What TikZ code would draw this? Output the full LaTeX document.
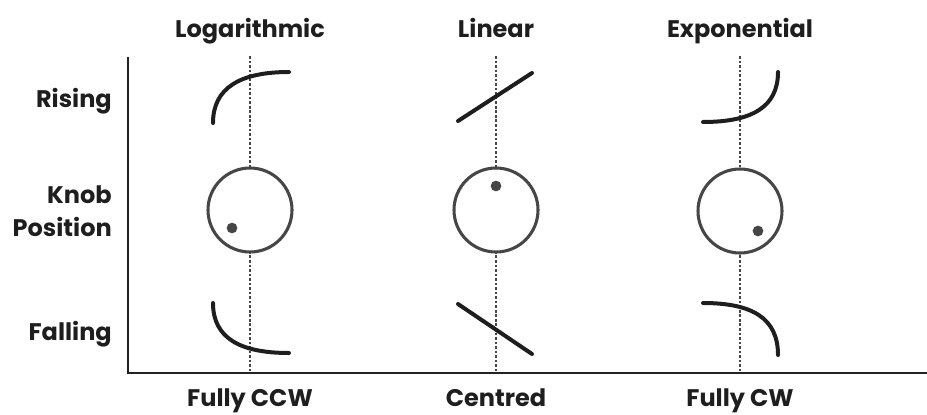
\documentclass[tikz,border=0pt]{standalone}
\usepackage{fontspec}
\setmainfont{Poppins}
\usetikzlibrary{positioning, calc}
\definecolor{curvecolor}{RGB}{30, 30, 30}
\definecolor{knobcolor}{RGB}{70, 70, 70}
\definecolor{axiscolor}{RGB}{35, 35, 35}
\definecolor{textcolor}{RGB}{30, 30, 30}

\begin{document}
\begin{tikzpicture}[
    x=0.75pt, y=-0.75pt,
    curve/.style={line width=3pt, curvecolor, line cap=round},
    knob/.style={circle, draw=knobcolor, line width=2.3pt, fill=white, minimum size=63pt, inner sep=0pt},
    pointer/.style={circle, fill=knobcolor, minimum size=8pt, inner sep=0pt},
    guide/.style={line width=1pt, knobcolor, dash pattern=on 2pt off 1.4pt},
    axis/.style={line width=2.2pt, axiscolor},
    label/.style={font=\fontsize{18}{25}\selectfont\bfseries, text=textcolor, align=right, inner sep=0pt}
]
\useasboundingbox (0,0) rectangle (927,414);

% Column titles
\node[label, anchor=base] (hdLog) at (250, 37) {Logarithmic};
\node[label, anchor=base] (hdLin) at (496, 37) {Linear};
\node[label, anchor=base] (hdExp) at (740, 37) {Exponential};

% Row titles
\node[label, anchor=base east] (lbRise) at (112, 107) {Rising};
\node[label, anchor=east] (lbKnob) at (112, 211) {Knob\\Position};
\node[label, anchor=base east] (lbFall) at (112, 340) {Falling};

% Bottom titles
\node[label, anchor=base] (ftCCW) at (250, 406) {Fully CCW};
\node[label, anchor=base] (ftCentre) at (496, 406) {Centred};
\node[label, anchor=base] (ftCW) at (740, 406) {Fully CW};

% Axes
\coordinate (axTop) at (128, 57);
\coordinate (axEnd) at (927, 373);
\draw[axis] (axTop) |- (axEnd);

% Centre guides
\coordinate (gLogTop) at (250, 56);
\coordinate (gLogBot) at (250, 372);
\coordinate (gLinTop) at (496, 56);
\coordinate (gLinBot) at (496, 372);
\coordinate (gExpTop) at (740, 56);
\coordinate (gExpBot) at (740, 372);
\draw[guide] (gLogTop) -- (gLogBot);
\draw[guide] (gLinTop) -- (gLinBot);
\draw[guide] (gExpTop) -- (gExpBot);

% Knobs
\node[knob] (knobLog) at (250, 210) {};
\node[knob] (knobLin) at (496, 210) {};
\node[knob] (knobExp) at (740, 211) {};
\node[pointer] (ptLog) at ($(knobLog.center)+(-18, 18)$) {};
\node[pointer] (ptLin) at ($(knobLin.center)+(0, -24)$) {};
\node[pointer] (ptExp) at ($(knobExp.center)+(18, 20)$) {};

% Logarithmic curves
\draw[curve] (213, 123) .. controls (213, 88) and (240, 72) .. (289, 72);
\draw[curve] (213, 303) .. controls (213, 338) and (240, 353) .. (289, 353);

% Linear curves
\draw[curve] (458, 121) -- (532, 73);
\draw[curve] (458, 304) -- (532, 354);

% Exponential curves
\draw[curve] (703, 122) .. controls (752, 122) and (778, 107) .. (778, 72);
\draw[curve] (703, 303) .. controls (752, 303) and (778, 318) .. (778, 355);

\end{tikzpicture}
\end{document}
